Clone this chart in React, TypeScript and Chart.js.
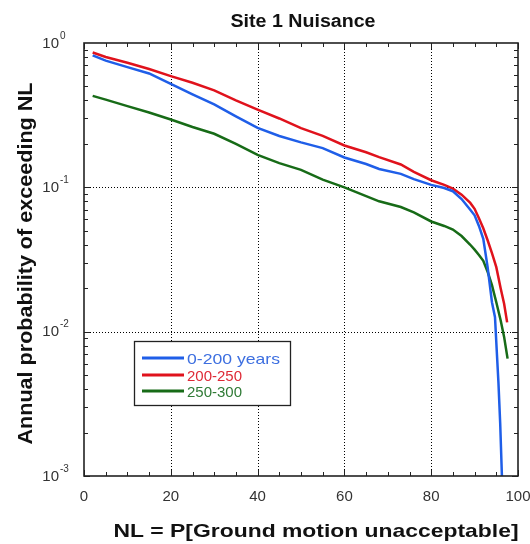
import React, { useEffect, useRef } from 'react';
import { Chart, registerables } from 'chart.js';

Chart.register(...registerables);

const chartTitle = 'Site 1 Nuisance';
const xAxisTitle = 'NL = P[Ground motion unacceptable]';
const yAxisTitle = 'Annual probability of exceeding NL';

const xTickValues = [0, 20, 40, 60, 80, 100];
const xMinorStep = 5;
const yTickValues = [1, 0.1, 0.01, 0.001];
const yTickExponents = ['0', '-1', '-2', '-3'];

const seriesNames = ['0-200 years', '200-250', '250-300'];

const blueX = [2, 5, 10, 15, 20, 25, 30, 35, 40, 45, 50, 55, 60, 65, 68, 73, 76, 80, 83, 85, 87, 89, 90, 91, 92, 93, 94, 94.7, 95.1, 95.5, 95.9, 96.4];
const blueY = [0.82, 0.755, 0.68, 0.615, 0.52, 0.44, 0.375, 0.31, 0.258, 0.227, 0.205, 0.187, 0.161, 0.145, 0.134, 0.124, 0.114, 0.104, 0.099, 0.094, 0.083, 0.07, 0.064, 0.054, 0.044, 0.028, 0.016, 0.0126, 0.0074, 0.0044, 0.0023, 0.0008];

const redX = [2, 5, 10, 15, 20, 25, 30, 35, 40, 45, 50, 55, 60, 65, 68, 73, 76, 80, 83, 85, 87, 89, 90, 91, 92, 93, 94, 95, 96, 96.8, 97.5];
const redY = [0.86, 0.8, 0.73, 0.66, 0.59, 0.53, 0.47, 0.4, 0.345, 0.3, 0.257, 0.227, 0.195, 0.175, 0.162, 0.144, 0.128, 0.112, 0.104, 0.098, 0.089, 0.078, 0.071, 0.061, 0.052, 0.043, 0.035, 0.028, 0.02, 0.0156, 0.0116];

const greenX = [2, 5, 10, 15, 20, 25, 30, 35, 40, 45, 50, 55, 60, 65, 68, 73, 76, 80, 83, 85, 87, 89, 90, 91, 92, 93, 94, 95, 96, 96.8, 97.6];
const greenY = [0.43, 0.405, 0.365, 0.33, 0.295, 0.262, 0.235, 0.2, 0.168, 0.147, 0.132, 0.113, 0.1, 0.087, 0.08, 0.073, 0.067, 0.058, 0.054, 0.051, 0.046, 0.04, 0.037, 0.034, 0.031, 0.026, 0.021, 0.016, 0.012, 0.0092, 0.0065];

const lineColors = ['#1f5ee8', '#e0121c', '#176b17'];
const legendTextColors = ['#3d6fe0', '#de2a36', '#2f7a35'];

const FONT = '"Liberation Sans", Arial, Helvetica, sans-serif';

function drawText(
  ctx: CanvasRenderingContext2D,
  s: string,
  x: number,
  y: number,
  font: string,
  color: string,
  align: CanvasTextAlign,
  targetWidth?: number,
  rot = 0
) {
  ctx.save();
  ctx.font = font;
  const w = ctx.measureText(s).width;
  const sx = targetWidth ? targetWidth / w : 1;
  ctx.translate(x, y);
  if (rot) ctx.rotate(rot);
  ctx.scale(sx, 1);
  ctx.fillStyle = color;
  ctx.textAlign = align;
  ctx.textBaseline = 'alphabetic';
  ctx.fillText(s, 0, 0);
  ctx.restore();
}

const decorPlugin = {
  id: 'decor',
  beforeDatasetsDraw(chart: any) {
    const { ctx, chartArea: a, scales } = chart;
    const xs = scales.x;
    const ys = scales.y;
    ctx.save();
    ctx.strokeStyle = '#000';
    ctx.lineWidth = 1;
    ctx.setLineDash([1, 2]);
    for (const v of xTickValues) {
      if (v <= xs.min || v >= xs.max) continue;
      const px = Math.round(xs.getPixelForValue(v)) + 0.5;
      ctx.beginPath();
      ctx.moveTo(px, a.top);
      ctx.lineTo(px, a.bottom);
      ctx.stroke();
    }
    for (const v of yTickValues) {
      if (v <= ys.min || v >= ys.max) continue;
      const py = Math.round(ys.getPixelForValue(v)) + 0.5;
      ctx.beginPath();
      ctx.moveTo(a.left, py);
      ctx.lineTo(a.right, py);
      ctx.stroke();
    }
    ctx.restore();
  },
  afterDatasetsDraw(chart: any) {
    const { ctx, chartArea: a, scales } = chart;
    const xs = scales.x;
    const ys = scales.y;
    ctx.save();
    ctx.setLineDash([]);
    ctx.strokeStyle = '#222';
    ctx.lineWidth = 1;
    for (let v = xs.min; v <= xs.max + 1e-9; v += xMinorStep) {
      const px = Math.round(xs.getPixelForValue(v)) + 0.5;
      const major = xTickValues.includes(v);
      const len = major ? 6 : 4;
      ctx.beginPath();
      ctx.moveTo(px, a.bottom);
      ctx.lineTo(px, a.bottom - len);
      ctx.moveTo(px, a.top);
      ctx.lineTo(px, a.top + len);
      ctx.stroke();
    }
    for (let k = -3; k < 0; k++) {
      for (let m = 1; m <= 9; m++) {
        const v = m * Math.pow(10, k);
        const py = Math.round(ys.getPixelForValue(v)) + 0.5;
        const len = m === 1 ? 6 : 4;
        ctx.beginPath();
        ctx.moveTo(a.left, py);
        ctx.lineTo(a.left + len, py);
        ctx.moveTo(a.right, py);
        ctx.lineTo(a.right - len, py);
        ctx.stroke();
      }
    }
    ctx.lineWidth = 1.6;
    ctx.strokeStyle = '#222';
    ctx.strokeRect(a.left, a.top, a.right - a.left, a.bottom - a.top);

    for (const v of xTickValues) {
      const px = xs.getPixelForValue(v);
      drawText(ctx, String(v), px, a.bottom + 25, `15px ${FONT}`, '#333', 'center');
    }
    yTickValues.forEach((v, i) => {
      const py = ys.getPixelForValue(v);
      drawText(ctx, '10', a.left - 25, py + 4.5, `15px ${FONT}`, '#333', 'right');
      drawText(ctx, yTickExponents[i], a.left - 24, py - 4.5, `10px ${FONT}`, '#333', 'left');
    });

    drawText(ctx, chartTitle, 303, 26.5, `bold 18px ${FONT}`, '#111', 'center', 145);
    drawText(ctx, xAxisTitle, 316, 537, `bold 19px ${FONT}`, '#111', 'center', 405);
    drawText(ctx, yAxisTitle, 32, (a.top + a.bottom) / 2 + 4, `bold 21px ${FONT}`, '#111', 'center', 362, -Math.PI / 2);

    const bx = 134.5, by = 341.5, bw = 156, bh = 64;
    ctx.fillStyle = '#fff';
    ctx.fillRect(bx, by, bw, bh);
    ctx.lineWidth = 1.3;
    ctx.strokeStyle = '#222';
    ctx.strokeRect(bx, by, bw, bh);
    const rows = [358, 375, 391];
    seriesNames.forEach((name, i) => {
      const yy = rows[i];
      ctx.strokeStyle = lineColors[i];
      ctx.lineWidth = 3;
      ctx.beginPath();
      ctx.moveTo(142, yy);
      ctx.lineTo(184, yy);
      ctx.stroke();
      drawText(ctx, name, 187, yy + 5.5, `15px ${FONT}`, legendTextColors[i], 'left', i === 0 ? 93 : undefined);
    });
    ctx.restore();
  },
};

function toPoints(xs: number[], ys: number[]) {
  return xs.map((x, i) => ({ x, y: ys[i] }));
}

export default function App() {
  const ref = useRef<HTMLCanvasElement | null>(null);
  useEffect(() => {
    if (!ref.current) return;
    const chart = new Chart(ref.current, {
      type: 'line',
      data: {
        datasets: [
          { label: seriesNames[0], data: toPoints(blueX, blueY), borderColor: lineColors[0], borderWidth: 2.5, pointRadius: 0, tension: 0, fill: false },
          { label: seriesNames[1], data: toPoints(redX, redY), borderColor: lineColors[1], borderWidth: 2.5, pointRadius: 0, tension: 0, fill: false },
          { label: seriesNames[2], data: toPoints(greenX, greenY), borderColor: lineColors[2], borderWidth: 2.5, pointRadius: 0, tension: 0, fill: false },
        ],
      },
      options: {
        responsive: false,
        animation: false,
        events: [],
        layout: { padding: { left: 84, top: 43, right: 12, bottom: 68 } },
        scales: {
          x: { type: 'linear', min: 0, max: 100, display: false },
          y: { type: 'logarithmic', min: 0.001, max: 1, display: false },
        },
        plugins: {
          legend: { display: false },
          tooltip: { enabled: false },
          title: { display: false },
        },
      },
      plugins: [decorPlugin],
    });
    return () => chart.destroy();
  }, []);
  return (
    <div style={{ position: 'fixed', left: 0, top: 0, width: 530, height: 544, background: '#fff' }}>
      <canvas ref={ref} width={530} height={544} style={{ display: 'block', width: 530, height: 544 }} />
    </div>
  );
}
